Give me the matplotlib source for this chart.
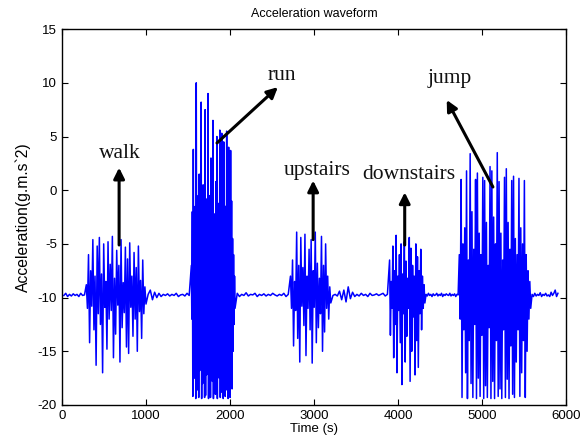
import numpy as np
import matplotlib
matplotlib.use("Agg")
import matplotlib.pyplot as plt

plt.rcParams["axes.unicode_minus"] = False

# burst segments: (start, end) in s, peak highs and lows
walk_span = (290, 1000)
walk_hi = [-8.8, -6.0, -7.5, -4.6, -8.0, -5.2, -4.4, -7.8, -5.0, -8.5, -4.8, -6.9, -4.3, -8.2,
           -5.6, -7.0, -4.6, -8.6, -5.3, -6.4, -4.9, -8.0, -5.8, -7.2, -5.2, -8.4, -6.5, -9.0]
walk_lo = [-11.0, -14.2, -10.8, -13.0, -16.3, -11.5, -12.5, -17.0, -10.9, -14.8, -12.0, -11.2, -15.6, -13.4,
           -10.7, -16.0, -12.8, -11.4, -14.6, -15.2, -10.9, -13.6, -12.0, -15.0, -11.3, -13.8, -11.5, -10.6]

run_span = (1540, 2060)
run_hi = [-7.0, -2.0, 3.8, -4.0, -1.5, 10.0, -3.0, -0.5, 1.5, -5.0, 8.2, -1.0, 0.5, -3.5, 7.5,
          -2.5, -0.8, 9.0, -4.0, -0.5, 3.0, -1.8, 6.5, -3.2, -2.2, 0.8, 5.0, -1.2, -4.5, 5.6,
          -2.8, 5.3, -0.5, 4.5, -3.0, -1.5, 5.5, -3.0, 4.0, -2.0, 3.7, -1.0, -4.5, -6.0, -8.0]
run_lo = [-12.0, -19.2, -15.5, -17.5, -19.4, -14.0, -18.6, -19.3, -16.8, -13.0, -19.4, -18.0, -15.0, -19.3, -19.1,
          -17.2, -14.5, -19.4, -18.5, -19.3, -16.0, -17.8, -19.4, -13.5, -19.0, -18.2, -19.4, -15.5, -17.5, -19.3,
          -18.8, -14.8, -19.4, -16.5, -19.2, -18.6, -15.0, -19.4, -17.0, -19.3, -14.0, -18.5, -15.0, -12.5, -11.0]

up_span = (2720, 3200)
up_hi = [-8.0, -6.5, -8.5, -3.9, -7.0, -4.4, -7.2, -4.1, -8.0, -5.5,
         -4.6, -7.5, -3.9, -6.8, -8.2, -4.3, -7.0, -5.0, -8.0, -9.0]
up_lo = [-11.0, -14.5, -11.2, -13.8, -16.0, -10.8, -12.6, -15.4, -11.0, -13.0,
         -16.1, -10.9, -14.2, -12.8, -11.5, -15.0, -13.2, -11.0, -12.0, -10.5]

down_span = (3900, 4320)
down_hi = [-6.5, -8.5, -5.2, -7.5, -4.2, -8.0, -6.0, -5.0, -7.8, -4.8, -6.6,
           -8.2, -4.4, -5.4, -7.0, -8.0, -5.0, -6.2, -7.5, -5.5, -8.0, -8.8]
down_lo = [-13.5, -11.0, -15.6, -12.5, -17.0, -11.2, -14.2, -18.1, -11.5, -16.0, -13.6,
           -11.0, -17.8, -15.0, -11.8, -17.2, -14.0, -16.5, -11.5, -13.0, -11.0, -10.5]

jump_span = (4730, 5580)
jump_hi = [-6.0, 1.0, -5.0, -3.5, 1.8, -6.5, 3.4, -2.0, -5.5, 1.0, 1.6, -4.0, -6.0, 1.2, 0.9, -3.0, -7.0, 2.2, 1.8, -2.5,
           -5.0, 3.5, 0.8, -4.0, -6.5, 1.2, 2.0, -3.0, -5.5, 0.9, 1.3, -4.5, -6.0, 1.1, -3.5, -5.0, 0.9, -6.0, -7.5, -8.5]
jump_lo = [-12.0, -19.3, -13.0, -17.0, -19.4, -14.0, -18.0, -19.3, -12.5, -19.4, -17.5, -19.2, -13.5, -19.4, -18.2,
           -19.3, -12.8, -19.4, -17.8, -19.4, -14.0, -19.2, -18.5, -19.4, -13.0, -19.3, -17.6, -19.4, -14.5, -19.0,
           -19.3, -16.0, -13.0, -19.2, -17.0, -14.0, -19.3, -15.0, -12.0, -11.0]

# resting baseline between bursts
gap0 = [-9.8, -9.6, -9.9, -9.7, -9.85, -9.65, -9.8, -9.7, -9.9, -9.6, -9.8, -9.75]
gap1 = [-9.7, -9.3, -10.2, -9.5, -10.0, -9.6, -9.9, -9.7, -9.8, -9.65, -9.85, -9.7, -9.8, -9.6, -9.9, -9.75,
        -9.7, -9.85, -9.6, -9.8]
gap2 = [-9.6, -9.9, -9.7, -9.8, -9.55, -9.85, -9.7, -9.75, -9.6, -9.9, -9.7, -9.8, -9.65, -9.85, -9.7, -9.8,
        -9.6, -9.75, -9.85, -9.7, -9.8, -9.6, -9.9, -9.7]
gap3 = [-9.8, -9.7, -9.85, -9.4, -10.2, -9.3, -10.4, -9.0, -10.1, -9.5, -9.9, -9.7, -9.85, -9.6, -9.8, -9.7,
        -9.9, -9.6, -9.8, -9.75, -9.65, -9.8, -9.7, -9.6, -9.85, -9.7]
gap4 = [-9.7, -9.85, -9.6, -9.8, -9.7, -9.9, -9.65, -9.8, -9.75, -9.6, -9.85, -9.7, -9.8, -9.6, -9.9, -9.7,
        -9.8, -9.65, -9.75, -9.8, -9.6, -9.85, -9.7, -9.8, -9.65, -9.9, -9.7, -9.75]
gap5 = [-9.7, -9.9, -9.6, -9.85, -9.7, -9.8, -9.55, -9.9, -9.7, -9.8, -9.6, -9.85, -9.75, -9.9, -9.5, -9.8,
        -9.6, -9.3, -9.9, -9.6]
t_last = 5920

labels = ["walk", "run", "upstairs", "downstairs", "jump"]


def burst(span, hi, lo):
    vals = np.ravel(np.column_stack([hi, lo]))
    return np.linspace(span[0], span[1], len(vals)), vals


def gap(t0, t1, vals):
    t = np.linspace(t0, t1, len(vals) + 2)[1:-1]
    return t, np.array(vals)


pieces = [
    gap(0, walk_span[0], gap0),
    burst(walk_span, walk_hi, walk_lo),
    gap(walk_span[1], run_span[0], gap1),
    burst(run_span, run_hi, run_lo),
    gap(run_span[1], up_span[0], gap2),
    burst(up_span, up_hi, up_lo),
    gap(up_span[1], down_span[0], gap3),
    burst(down_span, down_hi, down_lo),
    gap(down_span[1], jump_span[0], gap4),
    burst(jump_span, jump_hi, jump_lo),
    gap(jump_span[1], t_last, gap5),
]
t = np.concatenate([p[0] for p in pieces])
acc = np.concatenate([p[1] for p in pieces])

fig = plt.figure(figsize=(5.82, 4.48), dpi=100)
ax = fig.add_axes([0.1065, 0.096, 0.866, 0.839])
ax.plot(t, acc, color="#0000ff", lw=1.1)

ax.set_xlim(0, 6000)
ax.set_ylim(-20, 15)
ax.set_xticks(np.arange(0, 6001, 1000))
ax.set_yticks(np.arange(-20, 16, 5))
ax.tick_params(direction="in", length=4, width=0.8, labelsize=9.5, top=True, right=True,
               labeltop=False, labelright=False)
for tl in ax.get_xticklabels() + ax.get_yticklabels():
    tl.set_fontfamily("Liberation Sans")
for s in ax.spines.values():
    s.set_linewidth(1.0)

ax.set_title("Acceleration waveform", fontsize=9, family="Liberation Sans", pad=9)
ax.set_xlabel("Time (s)", fontsize=9.5, family="Liberation Sans", labelpad=1)
ax.set_ylabel("Acceleration(g.m.s`2)", fontsize=11.3, family="Liberation Sans", labelpad=5)

# labels with arrows: text position, arrow tip, arrow tail
text_xy = [(690, 3.4), (2620, 10.7), (3035, 1.8), (4130, 1.5), (4620, 10.4)]
tip_xy = [(680, 2.1), (2570, 9.6), (2990, 0.9), (4080, -0.2), (4580, 8.4)]
tail_xy = [(680, -5.1), (1845, 4.4), (2990, -4.6), (4080, -5.1), (5130, 0.3)]

aprops = dict(arrowstyle="-|>", color="black", lw=2.2, mutation_scale=16, shrinkA=0, shrinkB=0)
for lab, txy, a, b in zip(labels, text_xy, tip_xy, tail_xy):
    ax.annotate("", xy=a, xytext=b, arrowprops=aprops)
    ax.text(txy[0], txy[1], lab, ha="center", va="center", fontsize=15.5,
            family="Liberation Serif", color="#111111")

fig.savefig("out.png", dpi=100)
